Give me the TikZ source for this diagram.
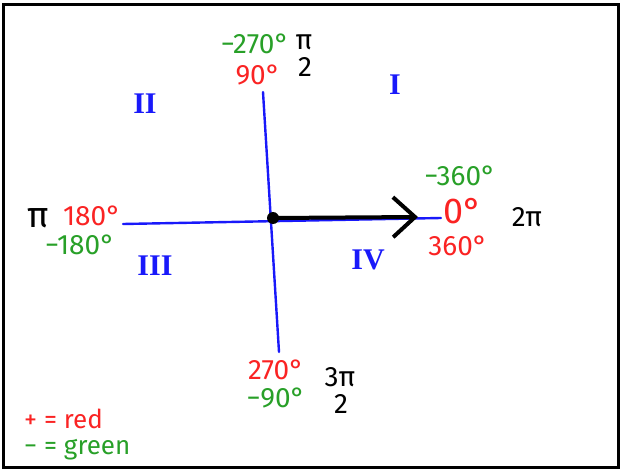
\documentclass[tikz,border=0pt]{standalone}
\usepackage{fontspec}
\setmainfont{Fira Sans}
\newfontfamily\quadfont{Liberation Serif}
\usetikzlibrary{arrows.meta}
\definecolor{hred}{RGB}{250,35,35}
\definecolor{hgreen}{RGB}{40,160,40}
\definecolor{hblue}{RGB}{25,25,250}
\begin{document}
\begin{tikzpicture}[x=1pt,y=-1pt,
  lbl/.style={inner sep=0pt, font=\fontsize{28}{28}\selectfont},
  leg/.style={inner sep=0pt, anchor=west, font=\fontsize{26}{26}\selectfont},
  big/.style={inner sep=0pt, font=\fontsize{36}{36}\selectfont},
  quad/.style={inner sep=0pt, text=hblue, font=\fontsize{30}{30}\selectfont\quadfont\bfseries},
  axis/.style={hblue, line width=2.4pt, line cap=round},
  ray/.style={black, line width=4pt, line cap=round, -{Straight Barb[length=22pt,width=40pt,line width=4pt]}}]
\useasboundingbox (0,0) rectangle (621,470);
\draw[line width=3pt] (3,5) rectangle (618,467);
% axes
\coordinate (top) at (263,92);
\coordinate (bot) at (279,352);
\coordinate (left) at (123,224);
\coordinate (right) at (441,218);
\coordinate (tip) at (418,217);
\draw[axis] (top) -- (bot);
\draw[axis] (left) -- (right);
\node[circle, fill=black, inner sep=0pt, minimum size=12pt] (o) at (273,218) {};
\draw[ray] (o.center) -- (tip);
% quadrant labels
\node[quad] (q1) at (395,85) {I};
\node[quad] (q2) at (145,104) {II};
\node[quad] (q3) at (155,266) {III};
\node[quad] (q4) at (368,260) {IV};
% top
\node[lbl, text=hgreen] (m270) at (255,44) {−270°};
\node[lbl, text=hred] (p90) at (258,75) {90°};
\node[lbl, text=black] (pi2n) at (304,42) {π};
\node[lbl, text=black] (pi2d) at (305,67) {2};
% right
\node[lbl, text=hgreen] (m360) at (460,176) {−360°};
\node[big, text=hred] (p0) at (463,211) {0°};
\node[lbl, text=hred] (p360) at (458,246) {360°};
\node[lbl, text=black] (tpi) at (527,217) {2π};
% left
\node[big, text=black] (pil) at (38,218) {π};
\node[lbl, text=hred] (p180) at (92,216) {180°};
\node[lbl, text=hgreen] (m180) at (80,245) {−180°};
% bottom
\node[lbl, text=hred] (p270) at (276,370) {270°};
\node[lbl, text=hgreen] (m90) at (276,398) {−90°};
\node[lbl, text=black] (tpi2n) at (340,377) {3π};
\node[lbl, text=black] (tpi2d) at (341,404) {2};
% legend
\node[leg, text=hred] (leg1) at (24,419) {+ = red};
\node[leg, text=hgreen] (leg2) at (24,450) {− = green};
\end{tikzpicture}
\end{document}
